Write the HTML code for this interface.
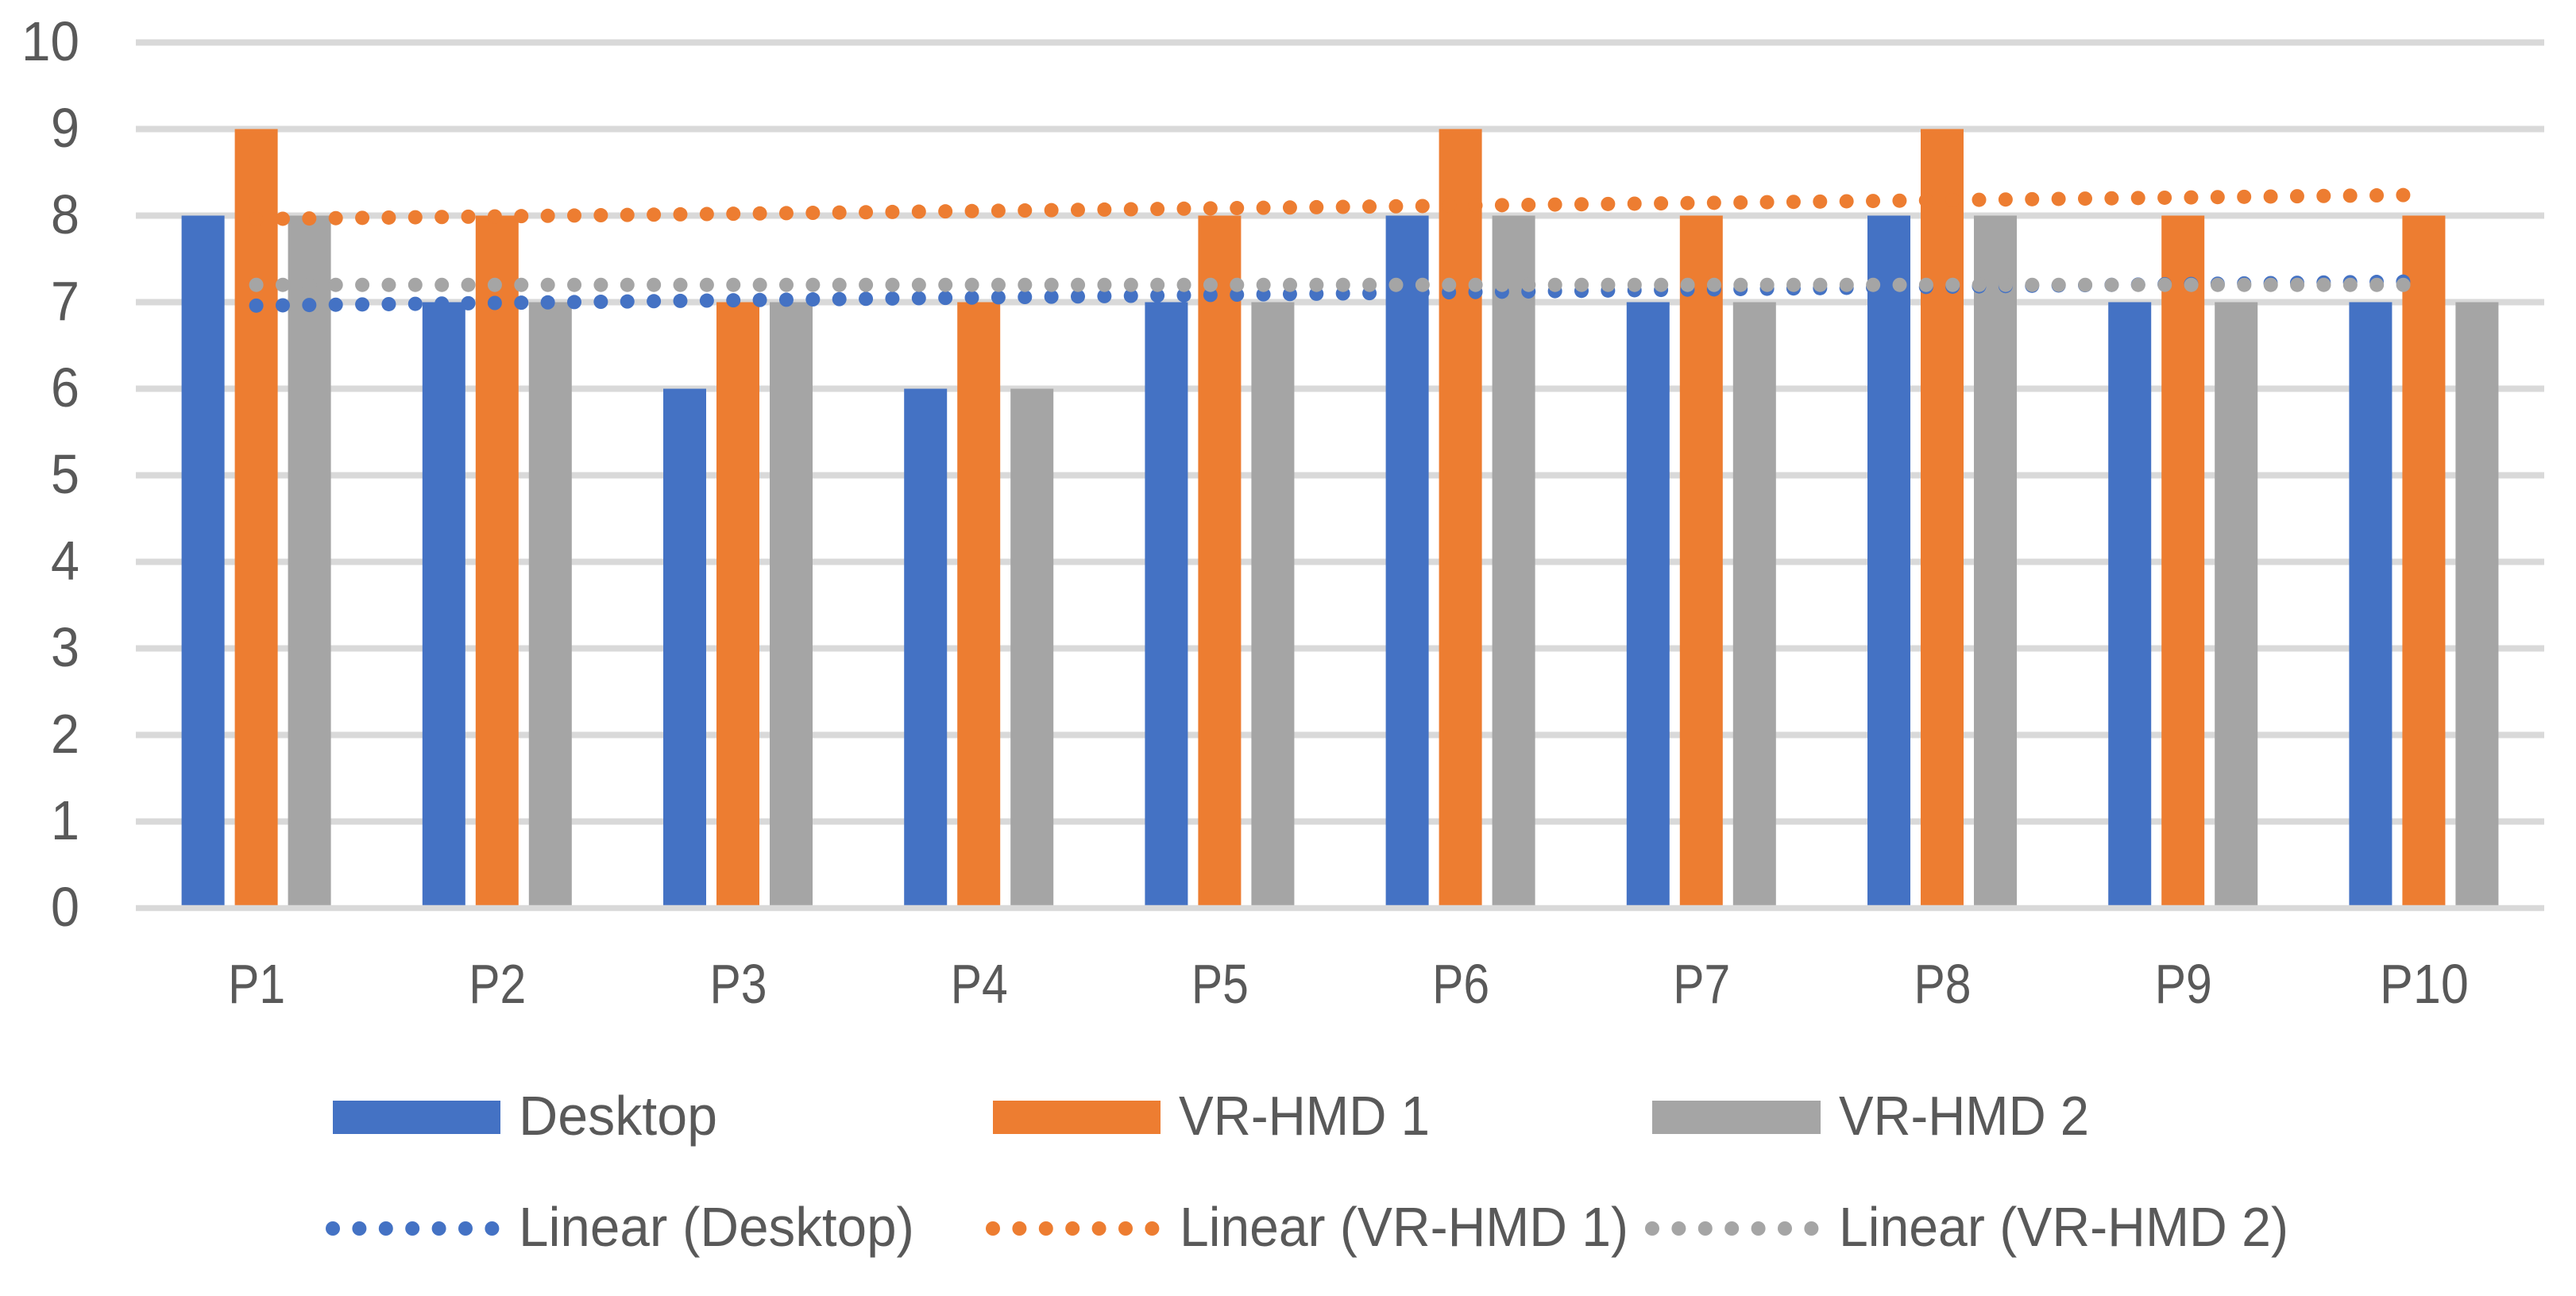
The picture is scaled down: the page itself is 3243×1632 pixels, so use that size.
<!DOCTYPE html>
<html lang="en">
<head>
<meta charset="utf-8">
<title>Desktop vs VR-HMD ratings by participant</title>
<style>
  html, body { margin: 0; padding: 0; background: #ffffff; }
  svg { display: block; }
  text { font-family: "Liberation Sans", sans-serif; fill: #595959; }
</style>
</head>
<body>
<svg id="chart" xmlns="http://www.w3.org/2000/svg" width="3243" height="1632" viewBox="0 0 3243 1632">
  <rect x="0" y="0" width="3243" height="1632" fill="#ffffff"/>
  <g id="grid"></g>
  <g id="bars"></g>
  <g id="axis"></g>
  <g id="trends"></g>
  <g id="yLabels"></g>
  <g id="xLabels"></g>

  <g font-size="70">
    <g>
      <rect x="419" y="1386" width="211" height="42" fill="#4472C4"/>
      <text x="653" y="1429" textLength="250" lengthAdjust="spacingAndGlyphs">Desktop</text>
    </g>
    <g>
      <rect x="1250" y="1386" width="211" height="42" fill="#ED7D31"/>
      <text x="1484" y="1429" textLength="316" lengthAdjust="spacingAndGlyphs">VR-HMD 1</text>
    </g>
    <g>
      <rect x="2080" y="1386" width="212" height="42" fill="#A5A5A5"/>
      <text x="2315" y="1429" textLength="315" lengthAdjust="spacingAndGlyphs">VR-HMD 2</text>
    </g>
    <g>
      <line x1="419" y1="1547" x2="622" y2="1547" stroke="#4472C4" stroke-width="18" stroke-linecap="round" stroke-dasharray="0 33.4"/>
      <text x="653" y="1569" textLength="498" lengthAdjust="spacingAndGlyphs">Linear (Desktop)</text>
    </g>
    <g>
      <line x1="1250" y1="1547" x2="1453" y2="1547" stroke="#ED7D31" stroke-width="18" stroke-linecap="round" stroke-dasharray="0 33.4"/>
      <text x="1485" y="1569" textLength="565" lengthAdjust="spacingAndGlyphs">Linear (VR-HMD 1)</text>
    </g>
    <g>
      <line x1="2080" y1="1547" x2="2283" y2="1547" stroke="#A5A5A5" stroke-width="18" stroke-linecap="round" stroke-dasharray="0 33.4"/>
      <text x="2315" y="1569" textLength="566" lengthAdjust="spacingAndGlyphs">Linear (VR-HMD 2)</text>
    </g>
  </g>
</svg>
<script>
const categories = ["P1", "P2", "P3", "P4", "P5", "P6", "P7", "P8", "P9", "P10"];
const yTicks = [0, 1, 2, 3, 4, 5, 6, 7, 8, 9, 10];
const desktopValues = [8, 7, 6, 6, 7, 8, 7, 8, 7, 7];
const vrHmd1Values = [9, 8, 7, 7, 8, 9, 8, 9, 8, 8];
const vrHmd2Values = [8, 7, 7, 6, 7, 8, 7, 8, 7, 7];
const desktopTrend = [6.96, 7.24];
const vrHmd1Trend = [7.96, 8.24];
const vrHmd2Trend = [7.2, 7.2];

const NS = "http://www.w3.org/2000/svg";
const plotLeft = 171, plotRight = 3203, yZero = 1143.5, unitHeight = 109;
const barWidth = 54, barPitch = 67;
const colors = ["#4472C4", "#ED7D31", "#A5A5A5"];

function xCenter(i) {
  return plotLeft + (i + 0.5) * (plotRight - plotLeft) / categories.length;
}
function yScale(v) {
  return yZero - v * unitHeight;
}
function make(tag, parentId, attrs) {
  const el = document.createElementNS(NS, tag);
  for (const k in attrs) el.setAttribute(k, attrs[k]);
  document.getElementById(parentId).appendChild(el);
  return el;
}

yTicks.forEach(function (t) {
  if (t === 0) return;
  const line = make("line", "grid", { x1: plotLeft, x2: plotRight, y1: yScale(t), y2: yScale(t), stroke: "#D9D9D9", "stroke-width": 8 });
  
  
});

function drawBars(values, seriesIndex, seriesName) {
  values.forEach(function (v, i) {
    const rect = make("rect", "bars", {
      x: xCenter(i) + (seriesIndex - 1) * barPitch - barWidth / 2,
      y: yScale(v),
      width: barWidth,
      height: yScale(0) - yScale(v),
      fill: colors[seriesIndex]
    });
    
    
  });
}
drawBars(desktopValues, 0, "desktop");
drawBars(vrHmd1Values, 1, "vr-hmd-1");
drawBars(vrHmd2Values, 2, "vr-hmd-2");

const axisLine = make("line", "axis", { x1: plotLeft, x2: plotRight, y1: yScale(0), y2: yScale(0), stroke: "#D9D9D9", "stroke-width": 7.5 });



function drawTrend(trend, seriesIndex, seriesName) {
  const line = make("line", "trends", {
    x1: xCenter(0),
    y1: yScale(trend[0]),
    x2: xCenter(categories.length - 1),
    y2: yScale(trend[1]),
    stroke: colors[seriesIndex],
    "stroke-width": 18,
    "stroke-linecap": "round",
    "stroke-dasharray": "0 33.37"
  });
  
  
}
drawTrend(desktopTrend, 0, "desktop");
drawTrend(vrHmd1Trend, 1, "vr-hmd-1");
drawTrend(vrHmd2Trend, 2, "vr-hmd-2");

yTicks.forEach(function (t) {
  const label = String(t);
  const text = make("text", "yLabels", {
    x: 100,
    y: yScale(t) + 22.5,
    "text-anchor": "end",
    "font-size": 70,
    textLength: label.length > 1 ? 73 : 36,
    lengthAdjust: "spacingAndGlyphs"
  });
  text.textContent = label;
  
  
});

categories.forEach(function (c, i) {
  const text = make("text", "xLabels", {
    x: xCenter(i) + 0.5,
    y: 1263,
    "text-anchor": "middle",
    "font-size": 70,
    textLength: c.length > 2 ? 112 : 72,
    lengthAdjust: "spacingAndGlyphs"
  });
  text.textContent = c;
  
  
});
</script>
</body>
</html>
